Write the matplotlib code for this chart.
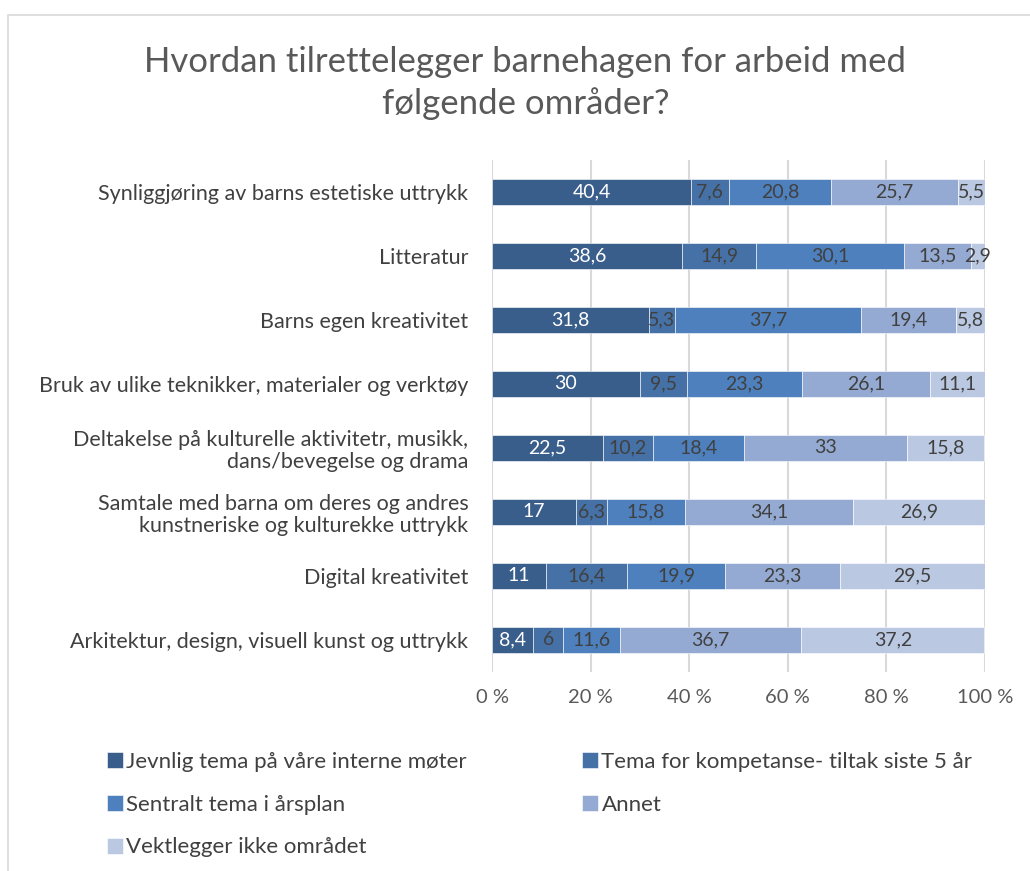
import matplotlib.pyplot as plt
from matplotlib.patches import Rectangle

plt.rcParams['font.family'] = ['Lato', 'DejaVu Sans']

categories = [
    "Synliggjøring av barns estetiske uttrykk",
    "Litteratur",
    "Barns egen kreativitet",
    "Bruk av ulike teknikker, materialer og verktøy",
    "Deltakelse på kulturelle aktivitetr, musikk,\ndans/bevegelse og drama",
    "Samtale med barna om deres og andres\nkunstneriske og kulturekke uttrykk",
    "Digital kreativitet",
    "Arkitektur, design, visuell kunst og uttrykk",
]
series_names = [
    "Jevnlig tema på våre interne møter",
    "Tema for kompetanse- tiltak siste 5 år",
    "Sentralt tema i årsplan",
    "Annet",
    "Vektlegger ikke området",
]
jevnlig = [40.4, 38.6, 31.8, 30, 22.5, 17, 11, 8.4]
kompetanse = [7.6, 14.9, 5.3, 9.5, 10.2, 6.3, 16.4, 6]
aarsplan = [20.8, 30.1, 37.7, 23.3, 18.4, 15.8, 19.9, 11.6]
annet = [25.7, 13.5, 19.4, 26.1, 33, 34.1, 23.3, 36.7]
ikke = [5.5, 2.9, 5.8, 11.1, 15.8, 26.9, 29.5, 37.2]
x_ticks = [0, 20, 40, 60, 80, 100]

colors = ["#3A5E8C", "#4571A6", "#4D80BD", "#94AAD2", "#BAC8E2"]
text_colors = ["white", "#404040", "#404040", "#404040", "#404040"]

fig = plt.figure(figsize=(10.3, 8.71), dpi=100)
ax = fig.add_axes([0.4777, 0.2285, 0.4786, 0.5878])

# frame around the chart
fig.add_artist(Rectangle((0.008, -0.01), 1.0, 0.993, transform=fig.transFigure,
                         fill=False, edgecolor="#D9D9D9", linewidth=1.2))

ypos = list(range(len(categories)))
left = [0.0] * len(categories)
all_series = [jevnlig, kompetanse, aarsplan, annet, ikke]
handles = []
for i, vals in enumerate(all_series):
    bars = ax.barh(ypos, vals, left=left, height=0.41, color=colors[i],
                   edgecolor="white", linewidth=0.4, label=series_names[i], zorder=3)
    handles.append(bars)
    labels = [str(v).replace(".", ",") for v in vals]
    ax.bar_label(bars, labels=labels, label_type="center", color=text_colors[i],
                 fontsize=14)
    left = [a + b for a, b in zip(left, vals)]

ax.set_xlim(0, 100)
ax.set_ylim(7.5, -0.5)
ax.set_yticks(ypos)
ax.set_yticklabels(categories, fontsize=15.5, color="#404040", ha="right",
                   linespacing=1.15)
ax.set_xticks(x_ticks)
ax.set_xticklabels([f"{t} %" for t in x_ticks], fontsize=14.5, color="#595959")
ax.tick_params(axis="both", length=0)
ax.tick_params(axis="x", pad=12)
ax.tick_params(axis="y", pad=17)
ax.grid(axis="x", color="#D9D9D9", linewidth=1.5, zorder=0)
for s in ax.spines.values():
    s.set_visible(False)

fig.suptitle("Hvordan tilrettelegger barnehagen for arbeid med\nfølgende områder?",
             x=0.51, y=0.947, fontsize=25, color="#595959", linespacing=1.35)

order = [0, 2, 4, 1, 3]
fig.legend([handles[k] for k in order], [series_names[k] for k in order],
           ncol=2, loc="upper left", bbox_to_anchor=(0.0845, 0.16),
           frameon=False, fontsize=16, labelcolor="#404040",
           handlelength=0.72, handleheight=0.72, handletextpad=0.14,
           columnspacing=5.2, labelspacing=1.03)

fig.savefig("out.png", dpi=100)
